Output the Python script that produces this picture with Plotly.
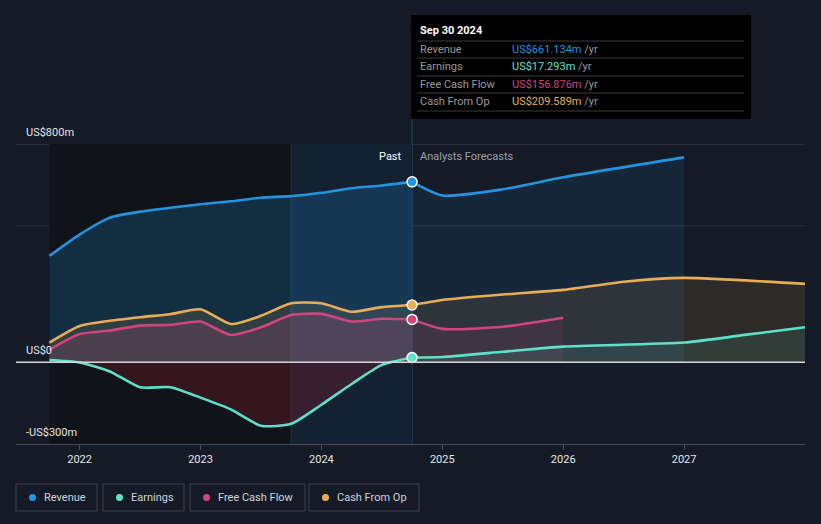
import plotly.graph_objects as go

# ---------------- data ----------------
series_names = ["Revenue", "Earnings", "Free Cash Flow", "Cash From Op"]
series_colors = ["#2394df", "#5fe0c8", "#d0447f", "#e9ad55"]

past_x = [2021.75, 2022.0, 2022.25, 2022.5, 2022.75, 2023.0, 2023.25, 2023.5,
          2023.75, 2024.0, 2024.25, 2024.5, 2024.75]
rev_past = [390, 468, 530, 552, 566, 579, 590, 603, 609, 621, 638, 648, 661.134]
earn_past = [8, -1, -34, -92, -92, -130, -173, -233, -226, -156, -80, -10, 17.293]
fcf_past = [45, 103, 116, 134, 137, 149, 100, 128, 173, 177, 149, 159, 156.876]
cfo_past = [72, 133, 152, 165, 176, 194, 140, 170, 216, 216, 185, 202, 209.589]

rev_fc_x = [2024.75, 2025.0, 2025.5, 2026.0, 2027.0]
rev_fc = [661.134, 611, 634, 678, 751]
earn_fc_x = [2024.75, 2025.0, 2025.5, 2026.0, 2027.0, 2027.5, 2028.0]
earn_fc = [17.293, 19, 38, 57, 72, 100, 128]
fcf_fc_x = [2024.75, 2025.0, 2025.5, 2026.0]
fcf_fc = [156.876, 122, 130, 163]
cfo_fc_x = [2024.75, 2025.0, 2025.5, 2026.0, 2026.5, 2027.0, 2028.0]
cfo_fc = [209.589, 228, 248, 265, 295, 309, 287]

year_ticks = [2022, 2023, 2024, 2025, 2026, 2027]
y_labels = ["US$800m", "US$0", "-US$300m"]
y_label_vals = [800, 0, -300]

tooltip_title = "Sep 30 2024"
tooltip_values = ["US$661.134m", "US$17.293m", "US$156.876m", "US$209.589m"]

# ---------------- figure ----------------
BG = "#151b26"
fig = go.Figure()


def hexa(c, a):
    c = c.lstrip("#")
    return "rgba(%d,%d,%d,%.3f)" % (int(c[0:2], 16), int(c[2:4], 16), int(c[4:6], 16), a)


rev_c, earn_c, fcf_c, cfo_c = series_colors

traces = [
    (past_x, rev_past, rev_c, hexa(rev_c, 0.20)),
    (rev_fc_x, rev_fc, rev_c, hexa(rev_c, 0.10)),
    (past_x, cfo_past, cfo_c, hexa(cfo_c, 0.13)),
    (cfo_fc_x, cfo_fc, cfo_c, hexa(cfo_c, 0.11)),
    (past_x, fcf_past, fcf_c, hexa(fcf_c, 0.18)),
    (fcf_fc_x, fcf_fc, fcf_c, hexa(fcf_c, 0.10)),
    (past_x, earn_past, earn_c, "rgba(150,30,45,0.28)"),
    (earn_fc_x, earn_fc, earn_c, hexa(earn_c, 0.10)),
]
for xs, ys, col, fc in traces:
    fig.add_trace(go.Scatter(
        x=xs, y=ys, mode="lines", fill="tozeroy", fillcolor=fc,
        line=dict(color=col, width=2.6, shape="spline", smoothing=0.6),
        hoverinfo="skip", showlegend=False))

for ys, col in [(rev_past, rev_c), (cfo_past, cfo_c), (fcf_past, fcf_c), (earn_past, earn_c)]:
    fig.add_trace(go.Scatter(
        x=[past_x[-1]], y=[ys[-1]], mode="markers",
        marker=dict(color=col, size=10, line=dict(color="white", width=1.5)),
        hoverinfo="skip", showlegend=False))


def px(x):
    return (x - 16) / 789


def py(y):
    return (444 - y) / 300


shapes = [
    dict(type="rect", xref="x", yref="y", x0=past_x[0], x1=2023.75, y0=-300, y1=800,
         fillcolor="#10141a", line=dict(width=0), layer="below"),
    dict(type="rect", xref="x", yref="y", x0=2023.75, x1=2024.75, y0=-300, y1=800,
         fillcolor="#132131", line=dict(width=0), layer="below"),
    dict(type="line", xref="x", yref="y", x0=2023.75, x1=2023.75, y0=-300, y1=800,
         line=dict(color="#1d3247", width=1), layer="below"),
    dict(type="line", xref="paper", yref="y", x0=0, x1=1, y0=800, y1=800,
         line=dict(color="#3b414b", width=1), layer="below"),
    dict(type="line", xref="paper", yref="y", x0=0, x1=1, y0=500, y1=500,
         line=dict(color="#2b313b", width=1), layer="below"),
    dict(type="line", xref="paper", yref="y", x0=0, x1=1, y0=0, y1=0,
         line=dict(color="#d8d8d8", width=1.5), layer="above"),
    dict(type="line", xref="x", yref="paper", x0=2024.75, x1=2024.75, y0=0, y1=py(15),
         line=dict(color="#2a4158", width=1.2), layer="below"),
    dict(type="rect", xref="paper", yref="paper", x0=px(411), x1=px(751), y0=py(119), y1=py(15),
         fillcolor="#000000", line=dict(width=0), layer="above"),
]
for ly in [41, 58, 76, 93, 111]:
    shapes.append(dict(type="line", xref="paper", yref="paper", x0=px(417), x1=px(744),
                       y0=py(ly), y1=py(ly), line=dict(color="#3a3a3a", width=1), layer="above"))

annotations = []
for lab, v in zip(y_labels, y_label_vals):
    annotations.append(dict(xref="paper", yref="y", x=px(24), y=v, text=lab, showarrow=False,
                            xanchor="left", yanchor="bottom", yshift=3,
                            font=dict(color="#e6e6e6", size=11)))
annotations.append(dict(xref="x", yref="paper", x=2024.75, y=py(156), text="Past", showarrow=False,
                        xanchor="right", yanchor="middle", xshift=-8,
                        font=dict(color="#ffffff", size=11)))
annotations.append(dict(xref="x", yref="paper", x=2024.75, y=py(156), text="Analysts Forecasts",
                        showarrow=False, xanchor="left", yanchor="middle", xshift=6,
                        font=dict(color="#9aa0a8", size=11)))

annotations.append(dict(xref="paper", yref="paper", x=px(418), y=py(31), text="<b>" + tooltip_title + "</b>",
                        showarrow=False, xanchor="left", yanchor="middle",
                        font=dict(color="#ffffff", size=11)))
for i, (name, val, col) in enumerate(zip(series_names, tooltip_values, series_colors)):
    yy = [49, 66, 84, 101][i]
    annotations.append(dict(xref="paper", yref="paper", x=px(418), y=py(yy), text=name, showarrow=False,
                            xanchor="left", yanchor="middle", font=dict(color="#9a9a9a", size=11)))
    annotations.append(dict(xref="paper", yref="paper", x=px(510), y=py(yy),
                            text="<span style='color:%s'>%s</span> <span style='color:#9a9a9a'>/yr</span>" % (col, val),
                            showarrow=False, xanchor="left", yanchor="middle", font=dict(color=col, size=11)))

boxes = [(16, 97), (103, 184), (190, 305), (309, 419)]
for (x0, x1), name, col in zip(boxes, series_names, series_colors):
    shapes.append(dict(type="rect", xref="paper", yref="paper", x0=px(x0), x1=px(x1),
                       y0=py(511), y1=py(484), line=dict(color="#3c424c", width=1),
                       fillcolor="rgba(0,0,0,0)"))
    shapes.append(dict(type="circle", xref="paper", yref="paper", x0=px(x0 + 13), x1=px(x0 + 20),
                       y0=py(501), y1=py(494), line=dict(width=0), fillcolor=col))
    annotations.append(dict(xref="paper", yref="paper", x=px(x0 + 26), y=py(497.5), text=name,
                            showarrow=False, xanchor="left", yanchor="middle",
                            font=dict(color="#d0d4da", size=11)))

fig.update_layout(
    width=821, height=524,
    margin=dict(l=16, r=16, t=144, b=80),
    paper_bgcolor=BG, plot_bgcolor=BG,
    font=dict(family="Roboto, 'Open Sans', sans-serif", color="#e6e6e6", size=11),
    showlegend=False,
    shapes=shapes, annotations=annotations,
    xaxis=dict(range=[2021.474, 2028.0], tickvals=year_ticks, ticktext=[str(t) for t in year_ticks],
               showgrid=False, zeroline=False, showline=True, linecolor="#474c55", linewidth=1,
               ticks="outside", ticklen=5, tickcolor="#474c55",
               tickfont=dict(color="#e6e6e6", size=11), fixedrange=True),
    yaxis=dict(range=[-300, 800], showgrid=False, zeroline=False, showticklabels=False,
               showline=False, fixedrange=True),
)

fig.write_html("out.html", config={"displayModeBar": False},
               post_script="document.body.style.margin='0';document.body.style.background='%s';" % BG)
